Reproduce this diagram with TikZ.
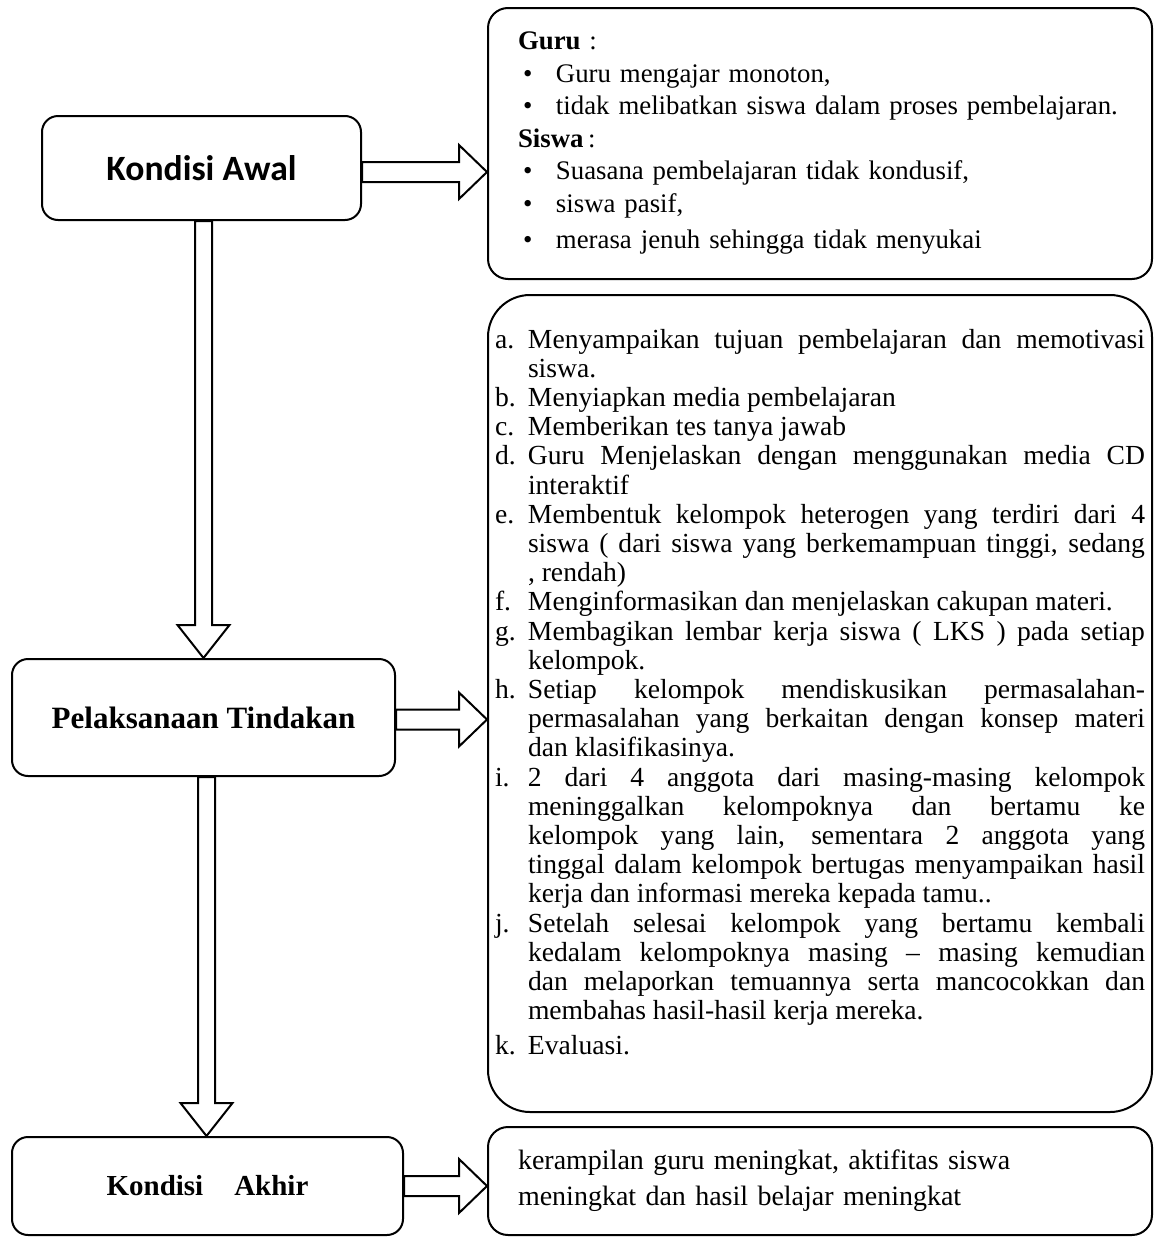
\documentclass[tikz,border=0pt]{standalone}
\usepackage{fontspec}
\setmainfont{Liberation Serif}
\newfontfamily\calibri{Carlito}
\usetikzlibrary{calc}

\newcommand{\butir}[2]{\par\noindent\hangindent=16.5pt\hangafter=1\makebox[16.5pt][l]{#1}#2}
\newcommand{\poin}[1]{\par\noindent\hspace*{2.5pt}\makebox[16.5pt][l]{\textbullet}#1}

\begin{document}
\begin{tikzpicture}[
        x=0.5pt, y=-0.5pt, line width=1pt,
        box/.style={rectangle, draw=black, rounded corners=8pt, align=center, inner sep=0pt},
        harrow/.style={draw=black, to path={let \p1=(\tikztostart), \p2=(\tikztotarget) in
            (\x1,\y1+5pt) -- (\x2-14pt,\y1+5pt) -- (\x2-14pt,\y1+13.5pt) -- (\x2,\y1)
            -- (\x2-14pt,\y1-13.5pt) -- (\x2-14pt,\y1-5pt) -- (\x1,\y1-5pt) -- cycle}},
        varrow/.style={draw=black, to path={let \p1=(\tikztostart), \p2=(\tikztotarget) in
            (\x1-4.25pt,\y1) -- (\x1-4.25pt,\y2+16.5pt) -- (\x1-13pt,\y2+16.5pt) -- (\x1,\y2)
            -- (\x1+13pt,\y2+16.5pt) -- (\x1+4.25pt,\y2+16.5pt) -- (\x1+4.25pt,\y1) -- cycle}}
    ]
    \useasboundingbox (0,0) rectangle (1154,1237);

    % Nodes
    \node[box, minimum width=159.5pt, minimum height=52pt, font=\calibri\bfseries\fontsize{17.8}{20}\selectfont] (awal) at (201.5,168) {Kondisi Awal};

    \node[box, minimum width=191.5pt, minimum height=58.5pt, font=\bfseries\fontsize{15.5}{18}\selectfont] (tindakan) at (203.5,717.5) {Pelaksanaan Tindakan};

    \node[box, minimum width=195.5pt, minimum height=49pt, font=\bfseries\fontsize{14.5}{17}\selectfont] (akhir) at (207.5,1186) {Kondisi\hspace{15.5pt}Akhir};

    \node[box, rounded corners=10pt, minimum width=332pt, minimum height=135.5pt, text width=302pt, align=left, font=\fontsize{13.4}{16.25}\selectfont] (guru) at (820,143.5) {%
        \textbf{Guru} :
        \poin{Guru mengajar monoton,}
        \poin{tidak melibatkan siswa dalam proses pembelajaran.}
        \par\noindent\textbf{Siswa}\,:
        \poin{Suasana pembelajaran tidak kondusif,}
        \poin{siswa pasif,}
        \par\vspace{2pt}
        \poin{merasa jenuh sehingga tidak menyukai}};

    \node[box, rounded corners=21pt, minimum width=332pt, minimum height=408.5pt, font=\fontsize{13.8}{14.6}\selectfont] (langkah) at (820,703.5) {%
        \parbox[c][374.5pt][t]{325pt}{\tolerance=10000 \hyphenpenalty=10000 \exhyphenpenalty=10000
        \butir{a.}{Menyampaikan tujuan pembelajaran dan memotivasi\linebreak siswa.}
        \butir{b.}{Menyiapkan media pembelajaran}
        \butir{c.}{Memberikan tes tanya jawab}
        \butir{d.}{Guru Menjelaskan dengan menggunakan media CD\linebreak interaktif}
        \butir{e.}{Membentuk kelompok heterogen yang terdiri dari 4\linebreak siswa ( dari siswa yang berkemampuan tinggi, sedang\linebreak , rendah)}
        \butir{f.}{Menginformasikan dan menjelaskan cakupan materi.}
        \butir{g.}{Membagikan lembar kerja siswa ( LKS ) pada setiap\linebreak kelompok.}
        \butir{h.}{Setiap kelompok mendiskusikan permasalahan-\linebreak permasalahan yang berkaitan dengan konsep materi\linebreak dan klasifikasinya.}
        \butir{i.}{2 dari 4 anggota dari masing-masing kelompok\linebreak meninggalkan kelompoknya dan bertamu ke\linebreak kelompok yang lain, sementara 2 anggota yang\linebreak tinggal dalam kelompok bertugas menyampaikan hasil\linebreak kerja dan informasi mereka kepada tamu..}
        \butir{j.}{Setelah selesai kelompok yang bertamu kembali\linebreak kedalam kelompoknya masing – masing kemudian\linebreak dan melaporkan temuannya serta mancocokkan dan\linebreak membahas hasil-hasil kerja mereka.}
        \par\vspace{3pt}
        \butir{k.}{Evaluasi.}}};

    \node[box, rounded corners=10pt, minimum width=332pt, minimum height=54pt, text width=302pt, align=left, font=\fontsize{14}{18}\selectfont] (hasil) at (820,1181) {kerampilan guru meningkat, aktifitas siswa\\ meningkat dan hasil belajar meningkat};

    % Arrows
    \draw[harrow] ([yshift=-2pt]awal.east) to ([yshift=-2pt]awal.east -| guru.west);
    \draw[harrow] ([yshift=-1pt]tindakan.east) to ([yshift=-1pt]tindakan.east -| langkah.west);
    \draw[harrow] (akhir.east) to (akhir.east -| hasil.west);
    \draw[varrow] ([xshift=1pt]awal.south) to ([xshift=1pt]awal.south |- tindakan.north);
    \draw[varrow] ([xshift=1.5pt]tindakan.south) to ([xshift=1.5pt]tindakan.south |- akhir.north);

\end{tikzpicture}
\end{document}
